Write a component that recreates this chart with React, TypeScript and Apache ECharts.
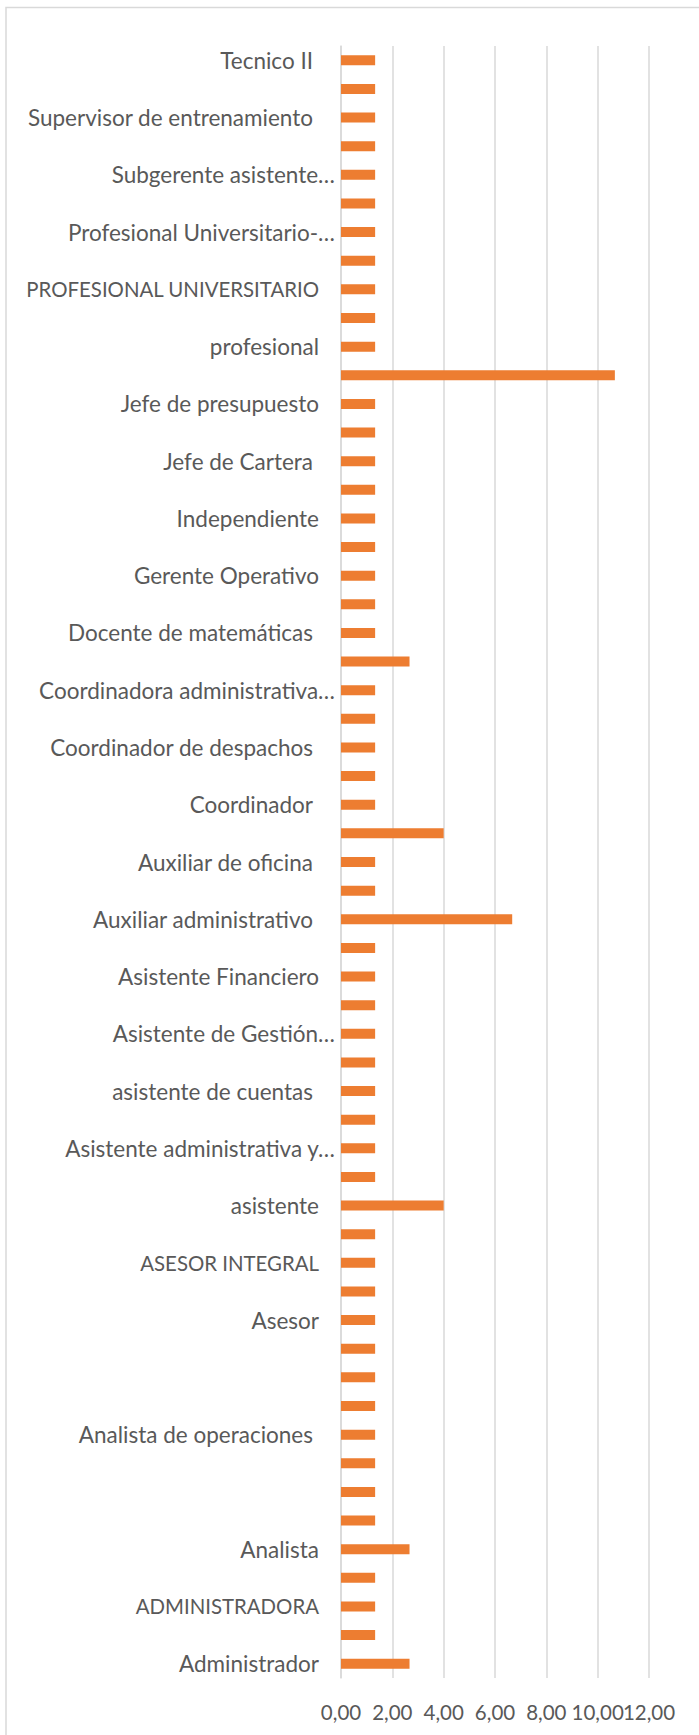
import React, { useEffect, useRef } from "react";
import * as echarts from "echarts";

// Categories from bottom (index 0) to top; every second label is hidden by the axis
const categories: string[] = [
  "Administrador",
  "Administrador de empresas",
  "ADMINISTRADORA",
  "Agente comercial",
  "Analista",
  "Analista contable",
  " ",
  "Analista de cartera",
  "Analista de operaciones ",
  "Analista financiero",
  "  ",
  "Analista de riesgos",
  "Asesor",
  "Asesor comercial",
  "ASESOR INTEGRAL",
  "Asesora",
  "asistente",
  "Asistente administrativa",
  "Asistente administrativa y…",
  "Asistente contable",
  "asistente de cuentas ",
  "Asistente de facturación",
  "Asistente de Gestión…",
  "Asistente de nómina",
  "Asistente Financiero",
  "Auxiliar",
  "Auxiliar administrativo ",
  "Auxiliar contable",
  "Auxiliar de oficina ",
  "Contador",
  "Coordinador ",
  "Coordinador administrativo",
  "Coordinador de despachos ",
  "Coordinador de proyectos",
  "Coordinadora administrativa…",
  "Docente",
  "Docente de matemáticas ",
  "Ejecutivo de cuenta",
  "Gerente Operativo",
  "Gerente",
  "Independiente",
  "Ingeniero",
  "Jefe de Cartera ",
  "Jefe de nómina",
  "Jefe de presupuesto",
  "Profesional",
  "profesional",
  "Profesional especializado",
  "PROFESIONAL UNIVERSITARIO",
  "Profesional universitario",
  "Profesional Universitario-…",
  "Secretaria",
  "Subgerente asistente…",
  "Supervisor",
  "Supervisor de entrenamiento ",
  "Técnico",
  "Tecnico II ",
];

const percentages: number[] = [
  2.67, 1.33, 1.33, 1.33, 2.67, 1.33, 1.33, 1.33, 1.33, 1.33,
  1.33, 1.33, 1.33, 1.33, 1.33, 1.33, 4.0, 1.33, 1.33, 1.33,
  1.33, 1.33, 1.33, 1.33, 1.33, 1.33, 6.67, 1.33, 1.33, 4.0,
  1.33, 1.33, 1.33, 1.33, 1.33, 2.67, 1.33, 1.33, 1.33, 1.33,
  1.33, 1.33, 1.33, 1.33, 1.33, 10.67, 1.33, 1.33, 1.33, 1.33,
  1.33, 1.33, 1.33, 1.33, 1.33, 1.33, 1.33,
];

const xTicks = { min: 0, max: 12, interval: 2 };
// Ticks whose labels overlap their neighbour are drawn by a twin axis
const twinAxisTicks: number[] = [10];

const FONT = "Lato";
const TEXT = "#595959";
const GRID = "#D9D9D9";
const LABEL_SIZE = 22.5;
const CAPS_SIZE = 20.4;

const fmt = (v: number) => v.toFixed(2).replace(".", ",");

export default function App() {
  const ref = useRef<HTMLDivElement>(null);
  useEffect(() => {
    document.body.style.margin = "0";
    const chart = echarts.init(ref.current!, null, { renderer: "svg" });
    const tickLabelStyle = {
      color: TEXT,
      fontFamily: FONT,
      fontSize: 20.5,
      margin: 23,
      showMinLabel: true,
      showMaxLabel: true,
      hideOverlap: false,
    };
    chart.setOption({
      animation: false,
      backgroundColor: "#ffffff",
      textStyle: { fontFamily: FONT },
      graphic: [
        {
          type: "rect",
          shape: { x: 6, y: 7.5, width: 760, height: 1800 },
          style: { fill: "none", stroke: GRID, lineWidth: 1.5 },
          silent: true,
        },
      ],
      grid: { left: 341, right: 50, top: 46, bottom: 57, containLabel: false },
      xAxis: [
        {
          type: "value",
          position: "bottom",
          min: xTicks.min,
          max: xTicks.max,
          interval: xTicks.interval,
          axisLine: { show: false },
          axisTick: { show: false },
          splitLine: { show: true, lineStyle: { color: GRID, width: 1.5 } },
          axisLabel: {
            ...tickLabelStyle,
            formatter: (v: number) => (twinAxisTicks.includes(v) ? "" : fmt(v)),
          },
        },
        {
          type: "value",
          position: "bottom",
          offset: 0,
          min: xTicks.min,
          max: xTicks.max,
          interval: xTicks.interval,
          axisLine: { show: false },
          axisTick: { show: false },
          splitLine: { show: false },
          axisLabel: {
            ...tickLabelStyle,
            formatter: (v: number) => (twinAxisTicks.includes(v) ? fmt(v) : ""),
          },
        },
      ],
      yAxis: {
        type: "category",
        data: categories,
        axisLine: { show: true, lineStyle: { color: GRID, width: 1.5 } },
        axisTick: { show: false },
        axisLabel: {
          interval: 1,
          margin: 5,
          color: TEXT,
          fontFamily: FONT,
          fontSize: LABEL_SIZE,
          formatter: (v: string) => {
            if (v.trim() === "") return "";
            if (v.endsWith("…")) return `{e|${v}}`;
            if (v.endsWith(" ")) return `{s|${v.trim()}}`;
            if (v === v.toUpperCase()) return `{c|${v}}`;
            return `{n|${v}}`;
          },
          rich: {
            e: { color: TEXT, fontFamily: FONT, fontSize: LABEL_SIZE, padding: [0, 1, 0, 0] },
            n: { color: TEXT, fontFamily: FONT, fontSize: LABEL_SIZE, padding: [0, 17, 0, 0] },
            c: { color: TEXT, fontFamily: FONT, fontSize: CAPS_SIZE, padding: [0, 17, 0, 0] },
            s: { color: TEXT, fontFamily: FONT, fontSize: LABEL_SIZE, padding: [0, 23, 0, 0] },
          },
        },
      },
      series: [
        {
          type: "bar",
          xAxisIndex: 0,
          data: percentages,
          barWidth: 10,
          itemStyle: { color: "#ED7D31" },
        },
      ],
    });
    return () => chart.dispose();
  }, []);
  return <div ref={ref} style={{ width: 699, height: 1735 }} />;
}
